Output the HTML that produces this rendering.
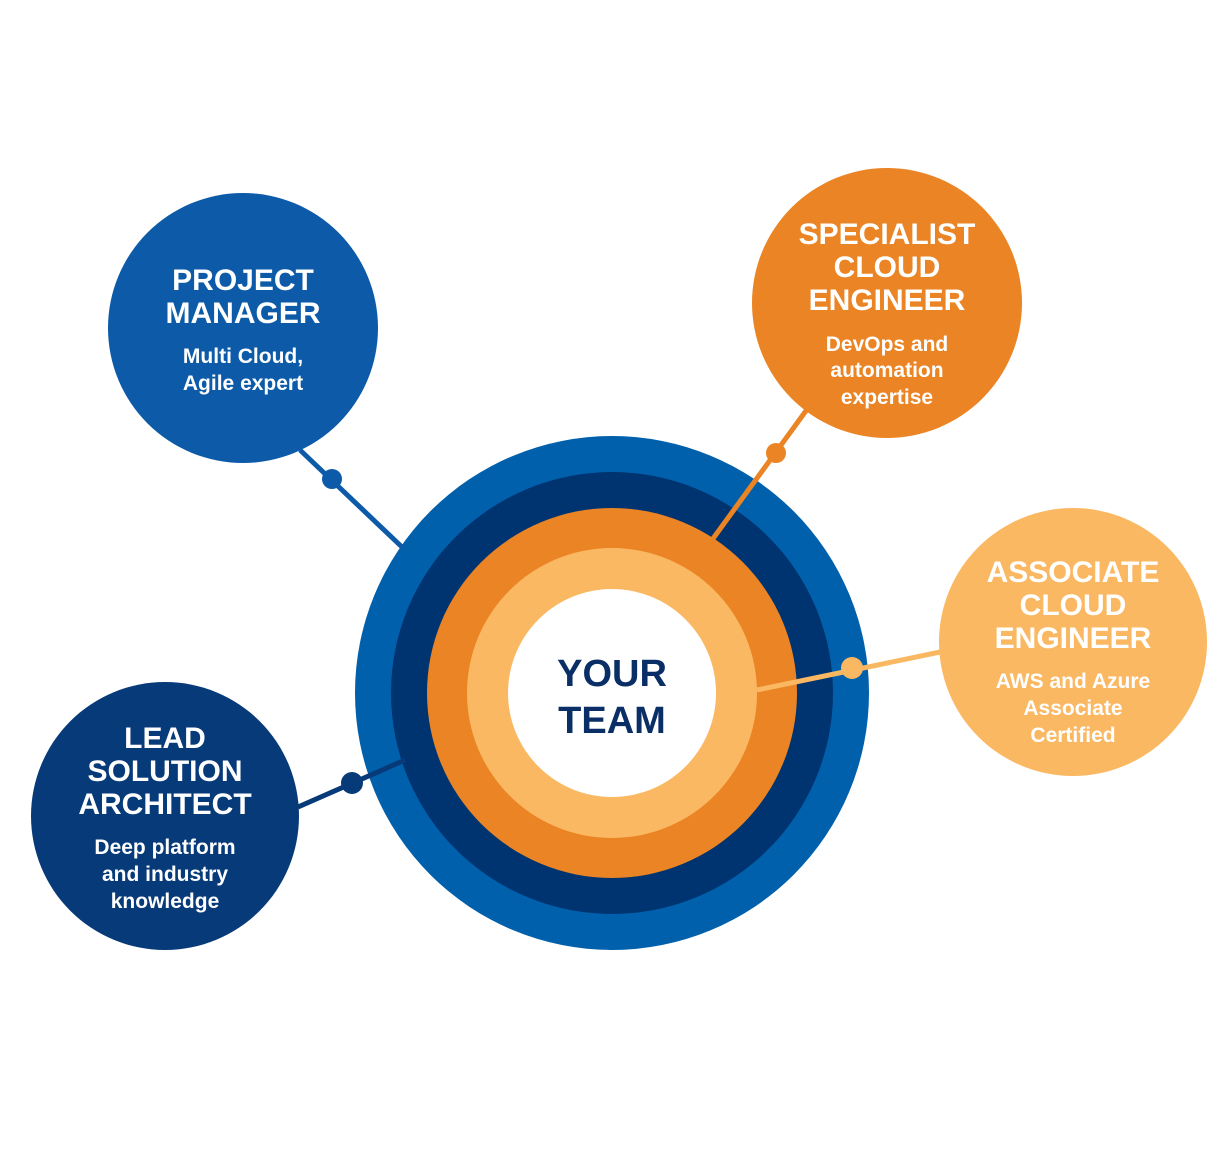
<!DOCTYPE html>
<html><head><meta charset="utf-8"><style>
html,body{margin:0;padding:0;background:#fff}
svg{display:block}
text{font-family:"Liberation Sans",sans-serif;font-weight:bold;text-anchor:middle}
</style></head><body>
<svg width="1232" height="1164" viewBox="0 0 1232 1164">
<!-- center -->
<circle cx="612" cy="693" r="257" fill="#0060ac"/>
<circle cx="612" cy="693" r="221" fill="#003470"/>
<circle cx="612" cy="693" r="185" fill="#ea8424"/>
<circle cx="612" cy="693" r="145" fill="#fbb862"/>
<circle cx="612" cy="693" r="104" fill="#fff"/>
<text x="612" y="686" font-size="38" fill="#0a2f66">YOUR</text>
<text x="612" y="733" font-size="38" fill="#0a2f66">TEAM</text>
<!-- connectors -->
<line x1="300" y1="450" x2="403" y2="548" stroke="#0d5ba8" stroke-width="5"/>
<circle cx="332" cy="479" r="10" fill="#0d5ba8"/>
<line x1="808" y1="408" x2="712" y2="540" stroke="#ea8424" stroke-width="5"/>
<circle cx="776" cy="453" r="10" fill="#ea8424"/>
<line x1="945" y1="651" x2="757" y2="690" stroke="#fbb862" stroke-width="5"/>
<circle cx="852" cy="668" r="11" fill="#fbb862"/>
<line x1="298" y1="807" x2="405" y2="760" stroke="#073a78" stroke-width="5"/>
<circle cx="352" cy="783" r="11" fill="#073a78"/>
<!-- PM -->
<circle cx="243" cy="328" r="135" fill="#0d5ba8"/>
<text x="243" y="290" font-size="30" fill="#fff">PROJECT</text>
<text x="243" y="323" font-size="30" fill="#fff">MANAGER</text>
<text x="243" y="363" font-size="21" fill="#fff">Multi Cloud,</text>
<text x="243" y="390" font-size="21" fill="#fff">Agile expert</text>
<!-- Specialist -->
<circle cx="887" cy="303" r="135" fill="#ea8424"/>
<text x="887" y="244" font-size="30" fill="#fff">SPECIALIST</text>
<text x="887" y="277" font-size="30" fill="#fff">CLOUD</text>
<text x="887" y="310" font-size="30" fill="#fff">ENGINEER</text>
<text x="887" y="351" font-size="21" fill="#fff">DevOps and</text>
<text x="887" y="377" font-size="21" fill="#fff">automation</text>
<text x="887" y="404" font-size="21" fill="#fff">expertise</text>
<!-- Associate -->
<circle cx="1073" cy="642" r="134" fill="#fbb862"/>
<text x="1073" y="582" font-size="30" fill="#fff">ASSOCIATE</text>
<text x="1073" y="615" font-size="30" fill="#fff">CLOUD</text>
<text x="1073" y="648" font-size="30" fill="#fff">ENGINEER</text>
<text x="1073" y="688" font-size="21" fill="#fff">AWS and Azure</text>
<text x="1073" y="715" font-size="21" fill="#fff">Associate</text>
<text x="1073" y="742" font-size="21" fill="#fff">Certified</text>
<!-- Lead -->
<circle cx="165" cy="816" r="134" fill="#073a78"/>
<text x="165" y="748" font-size="30" fill="#fff">LEAD</text>
<text x="165" y="781" font-size="30" fill="#fff">SOLUTION</text>
<text x="165" y="814" font-size="30" fill="#fff">ARCHITECT</text>
<text x="165" y="854" font-size="21" fill="#fff">Deep platform</text>
<text x="165" y="881" font-size="21" fill="#fff">and industry</text>
<text x="165" y="908" font-size="21" fill="#fff">knowledge</text>
</svg>
</body></html>
